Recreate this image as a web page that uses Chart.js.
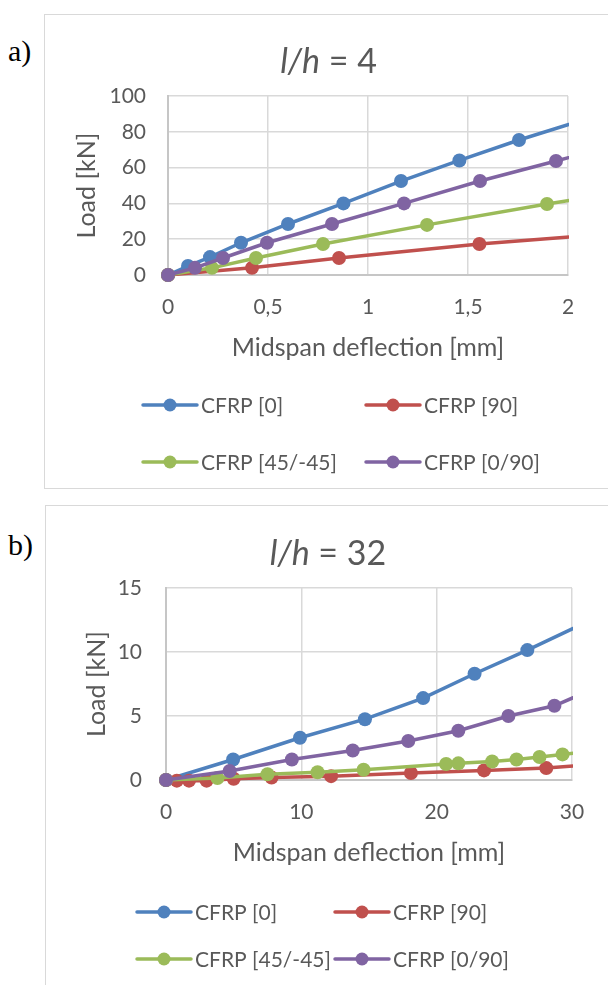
<!DOCTYPE html>
<html>
<head>
<meta charset="utf-8">
<script src="https://cdn.jsdelivr.net/npm/chart.js@4.4.0/dist/chart.umd.min.js"></script>
<style>
  body { margin: 0; width: 608px; height: 985px; overflow: hidden; background: #fff; position: relative; }
  .box { position: absolute; border: 1.5px solid #d9d9d9; box-sizing: border-box; }
  .tag { position: absolute; font-family: 'Liberation Serif', serif; font-size: 30px; color: #000; line-height: 1; }
  canvas { position: absolute; }
</style>
</head>
<body>
<div class="box" style="left:44px;top:14px;width:600px;height:475px"></div>
<div class="box" style="left:45px;top:505px;width:600px;height:500px"></div>
<div class="tag" style="left:8px;top:36px">a)</div>
<div class="tag" style="left:8px;top:530px">b)</div>
<canvas id="chartA" width="563" height="472" style="left:45px;top:15px"></canvas>
<canvas id="chartB" width="562" height="479" style="left:46px;top:506px"></canvas>
<script>
const seriesLabels = ['CFRP [0]', 'CFRP [90]', 'CFRP [45/-45]', 'CFRP [0/90]'];
const seriesColors = ['#4f81bd', '#c0504d', '#9bbb59', '#8064a2'];

// a) l/h = 4, deflection [mm] / load [kN]  (last point lies past the axis end, Excel clips it)
const a_x_0 = [0, 0.1, 0.21, 0.365, 0.6, 0.877, 1.165, 1.457, 1.755, 2.1];
const a_y_0 = [0, 5, 10, 18, 28.5, 40, 52.5, 64, 75.4, 87.5];
const a_x_90 = [0, 0.42, 0.855, 1.557, 2.1];
const a_y_90 = [0, 4, 9.5, 17.3, 22.1];
const a_x_45 = [0, 0.22, 0.44, 0.775, 1.295, 1.895, 2.1];
const a_y_45 = [0, 4, 9.5, 17.3, 28, 39.7, 43.2];
const a_x_090 = [0, 0.135, 0.275, 0.495, 0.82, 1.18, 1.56, 1.94, 2.1];
const a_y_090 = [0, 4, 9.5, 18, 28.5, 40, 52.5, 63.7, 68.5];

// b) l/h = 32
const b_x_0 = [0, 4.96, 9.9, 14.7, 19.0, 22.8, 26.7, 31];
const b_y_0 = [0, 1.6, 3.3, 4.75, 6.4, 8.3, 10.15, 12.3];
const b_x_90 = [0, 0.8, 1.7, 3.0, 5.0, 7.8, 12.2, 18.1, 23.5, 28.1, 31];
const b_y_90 = [0, -0.05, -0.05, -0.05, 0.1, 0.2, 0.3, 0.55, 0.75, 0.93, 1.18];
const b_x_45 = [0, 3.8, 7.5, 11.2, 14.6, 20.7, 21.6, 24.1, 25.9, 27.6, 29.3, 31];
const b_y_45 = [0, 0.15, 0.45, 0.6, 0.8, 1.25, 1.3, 1.45, 1.6, 1.8, 2.0, 2.2];
const b_x_090 = [0, 4.7, 9.3, 13.8, 17.9, 21.6, 25.3, 28.7, 31];
const b_y_090 = [0, 0.7, 1.6, 2.3, 3.05, 3.85, 5.0, 5.8, 6.85];

Chart.defaults.font.family = 'Lato';
Chart.defaults.color = '#595959';

function pts(xs, ys) {
    return xs.map((x, i) => ({ x: x, y: ys[i] }));
}

function makeDatasets(series) {
    return series.map((s, i) => ({
        label: seriesLabels[i],
        data: pts(s[0], s[1]),
        borderColor: seriesColors[i],
        backgroundColor: seriesColors[i],
        borderWidth: 3.5,
        pointRadius: 7,
        pointHoverRadius: 7,
        pointBorderWidth: 0,
        tension: 0,
        order: -i,
        clip: { left: 12, top: 12, right: 1, bottom: 12 }
    }));
}

// title with italic l/h part
const mixedTitle = {
    id: 'mixedTitle',
    afterDraw(chart, args, opts) {
        const ctx = chart.ctx;
        ctx.save();
        ctx.fillStyle = '#595959';
        ctx.textBaseline = 'alphabetic';
        const it = 'italic ' + opts.size + 'px Lato';
        const rm = opts.size + 'px Lato';
        ctx.font = it;
        const w1 = ctx.measureText(opts.italic).width;
        ctx.font = rm;
        const w2 = ctx.measureText(opts.rest).width;
        const x = chart.width / 2 + opts.dx - (w1 + w2) / 2;
        ctx.font = it;
        ctx.fillText(opts.italic, x, opts.y);
        ctx.font = rm;
        ctx.fillText(opts.rest, x + w1, opts.y);
        ctx.restore();
    }
};

// legend laid out in two aligned columns, line + marker like Excel
const excelLegend = {
    id: 'excelLegend',
    afterDraw(chart, args, opts) {
        const ctx = chart.ctx;
        const bottom = chart.chartArea.bottom;
        chart.data.datasets.forEach((ds, i) => {
            const x0 = opts.cols[i % 2];
            const y = bottom + opts.rows[Math.floor(i / 2)];
            ctx.save();
            ctx.strokeStyle = ds.borderColor;
            ctx.lineWidth = 3.5;
            ctx.lineCap = 'round';
            ctx.beginPath();
            ctx.moveTo(x0, y);
            ctx.lineTo(x0 + 54, y);
            ctx.stroke();
            ctx.fillStyle = ds.borderColor;
            ctx.beginPath();
            ctx.arc(x0 + 27, y, 6.5, 0, Math.PI * 2);
            ctx.fill();
            ctx.fillStyle = '#595959';
            ctx.font = '21px Lato';
            ctx.textBaseline = 'middle';
            ctx.fillText(ds.label, x0 + 58, y + 1);
            ctx.restore();
        });
    }
};

function makeChart(id, c) {
    return new Chart(document.getElementById(id), {
        type: 'line',
        data: { datasets: makeDatasets(c.series) },
        options: {
            responsive: false,
            animation: false,
            layout: { padding: c.padding },
            plugins: {
                legend: { display: false },
                tooltip: { enabled: false },
                mixedTitle: c.title,
                excelLegend: c.legend
            },
            scales: {
                x: {
                    type: 'linear',
                    min: c.xMin, max: c.xMax,
                    afterFit: (s) => { s.height = 90; },
                    grid: { color: '#d9d9d9', lineWidth: 1.5, drawTicks: false },
                    border: { color: '#c6c6c6', width: 2 },
                    ticks: {
                        stepSize: c.xStep,
                        padding: 20,
                        font: { size: 21 },
                        callback: (v) => String(v).replace('.', ',')
                    },
                    title: {
                        display: true,
                        text: 'Midspan deflection [mm]',
                        font: { size: 25 },
                        padding: { top: 0, bottom: 2 }
                    }
                },
                y: {
                    min: c.yMin, max: c.yMax,
                    afterFit: (s) => { s.width = c.yWidth; },
                    grid: { color: '#d9d9d9', lineWidth: 1.5, drawTicks: false },
                    border: { color: '#c6c6c6', width: 2 },
                    ticks: { stepSize: c.yStep, padding: c.yTickPad, font: { size: 21 } },
                    title: {
                        display: true,
                        text: 'Load [kN]',
                        font: { size: 25 },
                        padding: { top: c.yTitlePad, bottom: 0 }
                    }
                }
            }
        },
        plugins: [mixedTitle, excelLegend]
    });
}

makeChart('chartA', {
    series: [[a_x_0, a_y_0], [a_x_90, a_y_90], [a_x_45, a_y_45], [a_x_090, a_y_090]],
    xMin: 0, xMax: 2, xStep: 0.5,
    yMin: 0, yMax: 100, yStep: 20,
    yWidth: 123, yTickPad: 22, yTitlePad: 27,
    padding: { top: 81, right: 40, left: 0, bottom: 122 },
    title: { italic: 'l/h', rest: ' = 4', size: 34, y: 58, dx: 2 },
    legend: { cols: [98, 321], rows: [130, 187] }
});

makeChart('chartB', {
    series: [[b_x_0, b_y_0], [b_x_90, b_y_90], [b_x_45, b_y_45], [b_x_090, b_y_090]],
    xMin: 0, xMax: 30, xStep: 10,
    yMin: 0, yMax: 15, yStep: 5,
    yWidth: 120, yTickPad: 24, yTitlePad: 36,
    padding: { top: 82, right: 36, left: 0, bottom: 115 },
    title: { italic: 'l/h', rest: ' = 32', size: 34, y: 59, dx: 1 },
    legend: { cols: [91, 289], rows: [132, 179] }
});
</script>
</body>
</html>
